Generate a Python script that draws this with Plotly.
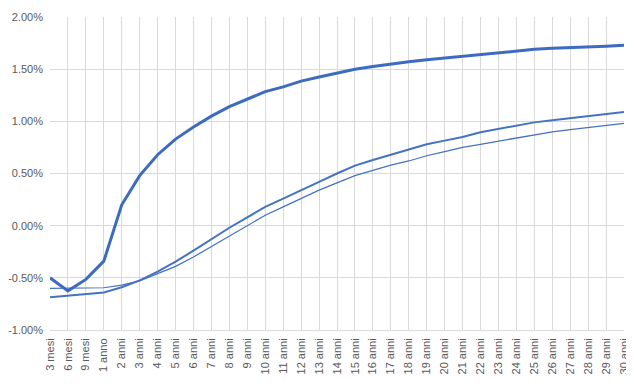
import plotly.graph_objects as go

categories = ["3 mesi", "6 mesi", "9 mesi", "1 anno", "2 anni", "3 anni", "4 anni", "5 anni",
              "6 anni", "7 anni", "8 anni", "9 anni", "10 anni", "11 anni", "12 anni", "13 anni",
              "14 anni", "15 anni", "16 anni", "17 anni", "18 anni", "19 anni", "20 anni",
              "21 anni", "22 anni", "23 anni", "24 anni", "25 anni", "26 anni", "27 anni",
              "28 anni", "29 anni", "30 anni"]

curve_thick = [-0.50, -0.625, -0.515, -0.34, 0.20, 0.48, 0.68, 0.83, 0.945, 1.05, 1.14, 1.215,
               1.285, 1.33, 1.385, 1.425, 1.465, 1.50, 1.525, 1.55, 1.57, 1.59, 1.607, 1.628,
               1.645, 1.66, 1.675, 1.69, 1.70, 1.705, 1.715, 1.72, 1.73]

curve_medium = [-0.685, -0.67, -0.66, -0.64, -0.59, -0.525, -0.44, -0.345, -0.24, -0.13, -0.02,
                0.08, 0.18, 0.26, 0.343, 0.42, 0.50, 0.576, 0.63, 0.68, 0.73, 0.78, 0.815, 0.85,
                0.895, 0.925, 0.96, 0.99, 1.01, 1.03, 1.055, 1.07, 1.09]

curve_thin = [-0.60, -0.60, -0.60, -0.595, -0.57, -0.53, -0.46, -0.39, -0.30, -0.20, -0.095,
              0.005, 0.10, 0.18, 0.26, 0.34, 0.41, 0.48, 0.53, 0.58, 0.62, 0.67, 0.71, 0.75,
              0.78, 0.81, 0.845, 0.875, 0.90, 0.92, 0.94, 0.96, 0.98]

y_ticks = [-1.0, -0.5, 0.0, 0.5, 1.0, 1.5, 2.0]
y_tick_labels = ["-1.00%", "-0.50%", "0.00%", "0.50%", "1.00%", "1.50%", "2.00%"]

blue = "#4472C4"

fig = go.Figure()
fig.add_trace(go.Scatter(x=categories, y=curve_thin, mode="lines", name="Curva 3",
                         line=dict(color=blue, width=1.25)))
fig.add_trace(go.Scatter(x=categories, y=curve_medium, mode="lines", name="Curva 2",
                         line=dict(color=blue, width=2)))
fig.add_trace(go.Scatter(x=categories, y=curve_thick, mode="lines", name="Curva 1",
                         line=dict(color="#3D6BC2", width=3)))

font = dict(family="Liberation Sans, Arial, sans-serif", size=11, color="#595959")

# the page body has an 8px margin, so the figure is sized/offset to compensate
fig.update_layout(
    width=626, height=378,
    margin=dict(l=42, r=10, t=9, b=56),
    paper_bgcolor="white", plot_bgcolor="white",
    showlegend=False,
    font=font,
    xaxis=dict(
        type="category",
        range=[0, len(categories) - 1],
        showgrid=True, gridcolor="#D9D9D9", gridwidth=1,
        showline=True, linecolor="#D9D9D9",
        tickangle=-90, ticks="", tickfont=font, ticklabelstandoff=3,
        zeroline=False, automargin=False,
    ),
    yaxis=dict(
        range=[-1.0, 2.0],
        tickvals=y_ticks, ticktext=y_tick_labels,
        showgrid=True, gridcolor="#D9D9D9", gridwidth=1,
        zeroline=False, showline=False, ticks="",
        tickfont=font, ticklabelstandoff=6, automargin=False,
    ),
)

fig.write_html("out.html")
